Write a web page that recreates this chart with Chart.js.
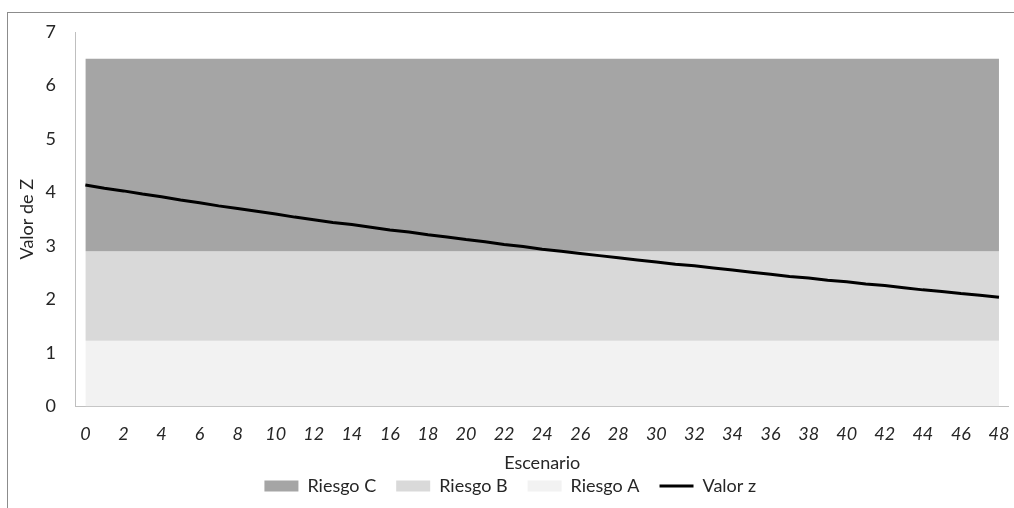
<!DOCTYPE html>
<html>
<head>
<meta charset="utf-8">
<script src="https://cdn.jsdelivr.net/npm/chart.js@4.4.1/dist/chart.umd.min.js"></script>
<style>
  html, body { margin: 0; padding: 0; background: #ffffff; overflow: hidden; }
  #frame {
    position: absolute; left: 7px; top: 12px; width: 1100px; height: 600px;
    border: 1.5px solid #8c8c8c; box-sizing: border-box;
  }
  #wrap { position: absolute; left: 0; top: 0; width: 1014px; height: 508px; }
</style>
</head>
<body>
<div id="frame"></div>
<div id="wrap"><canvas id="chart"></canvas></div>
<script>
// Scenarios 0..48
const escenarios = Array.from({ length: 49 }, (_, i) => String(i));

// Z value per scenario
const valorZ = [
  4.14, 4.08, 4.03, 3.97, 3.92, 3.86, 3.81, 3.75, 3.70, 3.65, 3.60, 3.54, 3.49,
  3.44, 3.40, 3.35, 3.30, 3.26, 3.21, 3.17, 3.12, 3.08, 3.03, 2.99, 2.94,
  2.90, 2.86, 2.82, 2.78, 2.74, 2.70, 2.66, 2.63, 2.59, 2.55, 2.51, 2.47,
  2.43, 2.40, 2.36, 2.33, 2.29, 2.26, 2.22, 2.18, 2.15, 2.11, 2.08, 2.04
];

// Upper limit of each risk band
const limiteA = 1.23;
const limiteB = 2.9;
const limiteC = 6.5;

// Y-axis range
const yTicks = [0, 1, 2, 3, 4, 5, 6, 7];

const colores = { C: '#a5a5a5', B: '#d9d9d9', A: '#f2f2f2', z: '#000000' };

const bandaA = escenarios.map(() => limiteA);
const bandaB = escenarios.map(() => limiteB);
const bandaC = escenarios.map(() => limiteC);

const fontFamily = 'Lato, "Open Sans", sans-serif';
const fontSize = 18;
const textColor = '#262626';

function banda(label, data, color, fill) {
  return {
    label, data, fill,
    backgroundColor: color, borderColor: color,
    borderWidth: 0, pointRadius: 0, pointHoverRadius: 0, tension: 0
  };
}

new Chart(document.getElementById('chart'), {
  type: 'line',
  data: {
    labels: escenarios,
    datasets: [
      {
        label: 'Valor z', data: valorZ, fill: false,
        borderColor: colores.z, backgroundColor: colores.z,
        borderWidth: 3, pointRadius: 0, tension: 0
      },
      banda('Riesgo C', bandaC, colores.C, '+1'),
      banda('Riesgo B', bandaB, colores.B, '+1'),
      banda('Riesgo A', bandaA, colores.A, 'origin')
    ]
  },
  options: {
    responsive: true,
    maintainAspectRatio: false,
    animation: false,
    layout: { padding: { left: 12, right: 5.5, top: 32, bottom: 3 } },
    plugins: {
      tooltip: { enabled: false },
      legend: {
        position: 'bottom',
        labels: {
          font: { family: fontFamily, size: fontSize },
          color: textColor,
          usePointStyle: true,
          pointStyleWidth: 34,
          boxHeight: 11,
          padding: 20,
          sort: (a, b) => (a.datasetIndex === 0 ? 99 : a.datasetIndex) - (b.datasetIndex === 0 ? 99 : b.datasetIndex),
          generateLabels(chart) {
            return chart.data.datasets.map((ds, i) => {
              const esLinea = i === 0;
              return {
                text: ds.label,
                datasetIndex: i,
                fillStyle: esLinea ? 'rgba(0,0,0,0)' : ds.backgroundColor,
                strokeStyle: ds.borderColor,
                lineWidth: esLinea ? 3 : 0,
                pointStyle: esLinea ? 'line' : 'rect',
                fontColor: textColor,
                hidden: false
              };
            });
          }
        }
      }
    },
    scales: {
      x: {
        type: 'category',
        offset: true,
        grid: { display: false, drawTicks: false },
        border: { display: true, color: '#bfbfbf', width: 1 },
        ticks: {
          autoSkip: false, maxRotation: 0, minRotation: 0, padding: 4,
          font: { family: fontFamily, size: fontSize, style: 'italic', lineHeight: 2.667 },
          color: textColor,
          callback: (v, i) => (i % 2 === 0 ? escenarios[i] : '')
        },
        title: {
          display: true, text: 'Escenario',
          font: { family: fontFamily, size: fontSize }, color: textColor,
          padding: { top: -9.8, bottom: -17.3 }
        }
      },
      y: {
        min: yTicks[0], max: yTicks[yTicks.length - 1],
        afterBuildTicks: (s) => { s.ticks = yTicks.map(v => ({ value: v })); },
        grid: { display: false, drawTicks: false },
        border: { display: true, color: '#bfbfbf', width: 1 },
        ticks: {
          padding: 20,
          font: { family: fontFamily, size: fontSize }, color: textColor
        },
        title: {
          display: true, text: 'Valor de Z',
          font: { family: fontFamily, size: fontSize }, color: textColor,
          padding: { top: 4, bottom: -12.2 }
        }
      }
    }
  }
});
</script>
</body>
</html>
